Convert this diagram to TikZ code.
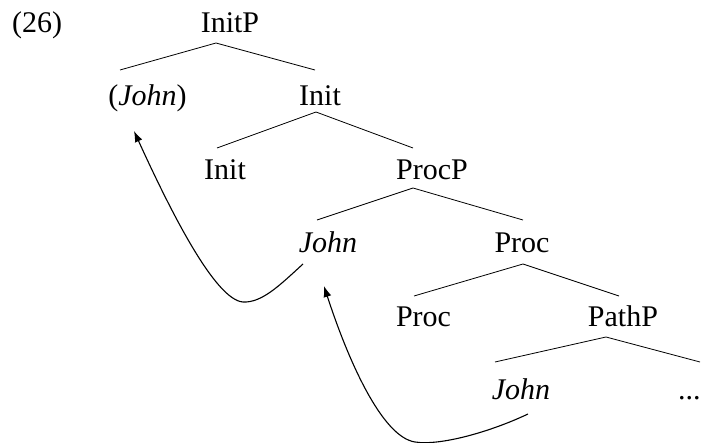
\documentclass[tikz,border=0pt]{standalone}
\usepackage{fontspec}
\setmainfont{Liberation Serif}
\usetikzlibrary{arrows.meta}
\begin{document}
\begin{tikzpicture}[x=1pt,y=-1pt,
  lab/.style={font=\fontsize{30}{32}\selectfont, anchor=base, inner sep=0pt},
  branch/.style={line width=0.8pt},
  move/.style={line width=1.1pt, -{Latex[length=11pt,width=8pt]}}]
\useasboundingbox (0,0) rectangle (702,443);
\node[lab, anchor=base west] (ex) at (12,33) {(26)};
\node[lab] (initp) at (230,33) {InitP};
\node[lab] (johnA) at (147.5,106) {(\textit{John})};
\node[lab] (initA) at (320,106) {Init};
\node[lab] (initB) at (225,180) {Init};
\node[lab] (procp) at (432,180) {ProcP};
\node[lab] (johnB) at (328,253) {\textit{John}};
\node[lab] (procA) at (522,253) {Proc};
\node[lab] (procB) at (423.5,327) {Proc};
\node[lab] (pathp) at (623,327) {PathP};
\node[lab] (johnC) at (521,400) {\textit{John}};
\node[lab, anchor=base west] (dots) at (678,400) {...};
% tree branch points
\coordinate (t1) at (216,43);  \coordinate (l1) at (120,70);  \coordinate (r1) at (315,70);
\coordinate (t2) at (316,112); \coordinate (l2) at (217,148); \coordinate (r2) at (413,148);
\coordinate (t3) at (413,188); \coordinate (l3) at (317,220); \coordinate (r3) at (523,220);
\coordinate (t4) at (523,264); \coordinate (l4) at (414,296); \coordinate (r4) at (619,296);
\coordinate (t5) at (606,337); \coordinate (l5) at (495,362); \coordinate (r5) at (700,362);
\foreach \i in {1,...,5} {\draw[branch] (l\i) -- (t\i) -- (r\i);}
% movement arrows
\coordinate (s1) at (303,264); \coordinate (e1) at (134,131);
\coordinate (s2) at (528,414); \coordinate (e2) at (324,286);
\draw[move] (s1) .. controls (280,285) and (262,303) .. (243,302)
  .. controls (215,300) and (170,210) .. (e1);
\draw[move] (s2) .. controls (490,432) and (440,446) .. (415,442)
  .. controls (382,437) and (348,360) .. (e2);
\end{tikzpicture}
\end{document}
